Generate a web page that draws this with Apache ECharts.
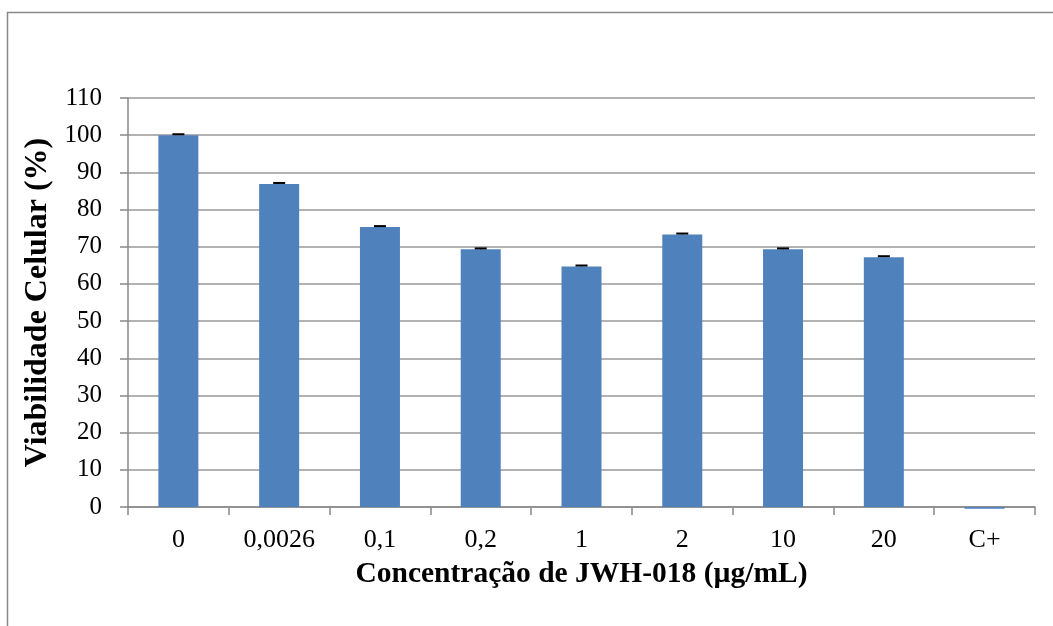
<!DOCTYPE html>
<html><head><meta charset="utf-8">
<script src="https://cdn.jsdelivr.net/npm/echarts@6/dist/echarts.min.js"></script>
<style>html,body{margin:0;padding:0;background:#fff}#c{width:1053px;height:626px}</style>
</head><body><div id="c"></div>
<script>
var categories = ['0','0,0026','0,1','0,2','1','2','10','20','C+'];
var values = [100, 86.9, 75.3, 69.3, 64.7, 73.3, 69.3, 67.2, -0.5];
var errors = [0.25, 0.25, 0.25, 0.25, 0.25, 0.25, 0.25, 0.25, 0];
var yTicks = [0,10,20,30,40,50,60,70,80,90,100,110];

var chart = echarts.init(document.getElementById('c'));
var font = 'Liberation Serif';
chart.setOption({
  animation: false,
  graphic: [{type:'rect', shape:{x:7.5,y:12.5,width:1060,height:640}, style:{fill:'none', stroke:'#888', lineWidth:1.5}}],
  grid: {left:128, right:18, top:98, bottom:119, containLabel:false},
  xAxis: {
    type:'category', data:categories,
    name:'Concentração de JWH-018 (µg/mL)', nameLocation:'middle', nameGap:52,
    nameTextStyle:{fontFamily:font, fontSize:29.5, fontWeight:'bold', color:'#000'},
    axisLine:{lineStyle:{color:'#888', width:1.5}},
    axisTick:{show:true, length:8, alignWithLabel:false, lineStyle:{color:'#888', width:1.5}},
    axisLabel:{fontFamily:font, fontSize:26, color:'#000', margin:20}
  },
  yAxis: {
    type:'value', min:0, max:110, interval:10,
    name:'Viabilidade Celular (%)', nameLocation:'middle', nameGap:74, nameRotate:90,
    nameTextStyle:{fontFamily:font, fontSize:32, fontWeight:'bold', color:'#000'},
    axisLine:{show:true, lineStyle:{color:'#888', width:1.5}},
    axisTick:{show:true, length:8, lineStyle:{color:'#888', width:1.5}},
    axisLabel:{fontFamily:font, fontSize:25, color:'#000', margin:26},
    splitLine:{lineStyle:{color:'#999', width:1.5}}
  },
  series: [
    {type:'bar', data:values, barWidth:40, clip:false, itemStyle:{color:'#4f81bd'}, z:2},
    {type:'custom', z:3,
     data: values.map(function(v,i){return [i, v, errors[i]];}),
     renderItem: function(params, api){
       var i = api.value(0), v = api.value(1), e = api.value(2);
       if (!e) return null;
       var top = api.coord([i, v + e]);
       var bot = api.coord([i, v]);
       var x = top[0];
       return {type:'group', children:[
         {type:'line', shape:{x1:x-6,y1:top[1],x2:x+6,y2:top[1]}, style:{stroke:'#000', lineWidth:2}},
         {type:'line', shape:{x1:x,y1:top[1],x2:x,y2:bot[1]}, style:{stroke:'#000', lineWidth:1}}
       ]};
     }
    }
  ]
});
</script></body></html>
